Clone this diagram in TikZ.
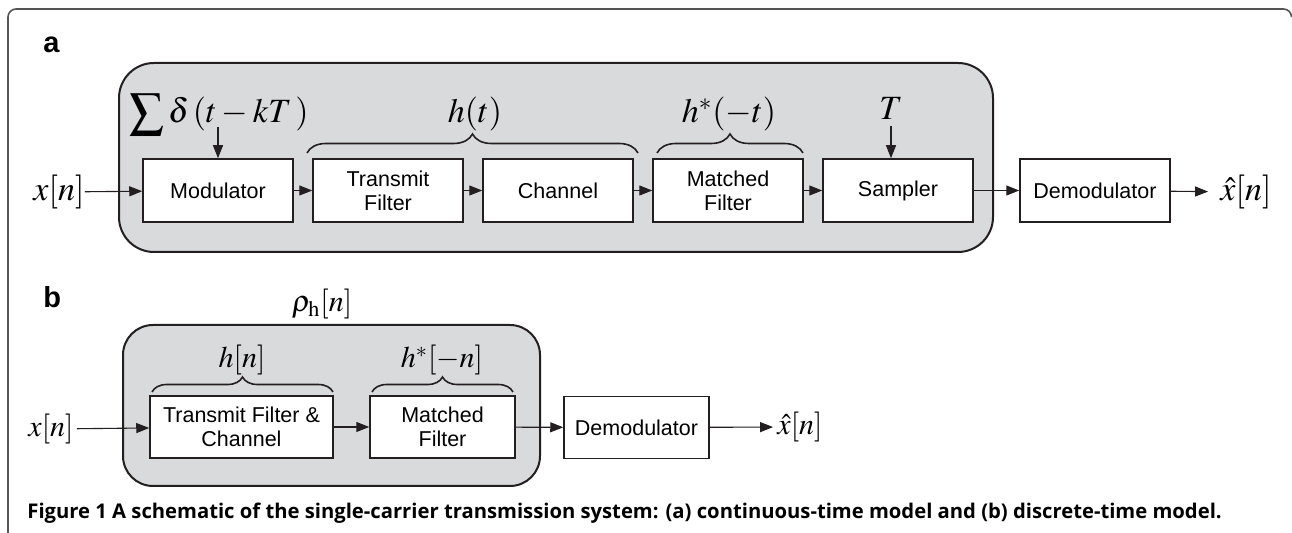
\documentclass[tikz,border=0pt]{standalone}
\usepackage{mathptmx}
\usepackage{fontspec}
\setsansfont{Liberation Sans}
\newfontfamily\capfont{Open Sans}
\usetikzlibrary{arrows.meta,decorations.pathreplacing}
\definecolor{boxgray}{RGB}{217,218,220}
\definecolor{ink}{RGB}{35,31,32}
\definecolor{framegray}{RGB}{85,85,85}

\begin{document}
\begin{tikzpicture}[x=0.5pt,y=-0.5pt,
	blk/.style={draw=ink,line width=0.75pt,fill=white,rectangle,align=center,minimum width=75pt,minimum height=31.5pt,font=\sffamily\fontsize{10.75}{12}\selectfont},
	grp/.style={draw=ink,line width=1pt,fill=boxgray},
	trans/.style={draw=ink,line width=0.55pt,-{Triangle[length=6.5pt,width=5pt]}},
	brc/.style={decorate,draw=ink,line width=0.8pt,decoration={brace,amplitude=#1}},
	mth/.style={inner sep=0pt,font=\fontsize{17}{20}\selectfont},
	mthb/.style={inner sep=0pt,font=\fontsize{15}{18}\selectfont},
	panel/.style={inner sep=0pt,anchor=base west,font=\sffamily\bfseries\fontsize{14.5}{17}\selectfont}]
\useasboundingbox (0,0) rectangle (1292,533);
\draw[framegray,line width=0.8pt,rounded corners=4pt] (8,540) -- (8,9) -- (1291.5,9) -- (1291.5,16);

% continuous-time model
\node[panel] (la) at (43,53) {a};
\draw[grp,rounded corners=17.5pt] (119,63) rectangle (993,252);
\node[mth,anchor=base west] (pulses) at (129,123) {$\displaystyle\sum \delta\,(t - kT\,)$};
\node[mth,anchor=base] (hlab) at (475,123) {$h(t)$};
\node[mth,anchor=base] (hmlab) at (729,123) {$h^{*}(-t)$};
\node[mth,anchor=base] (tsym) at (891,120) {$T$};
\draw[brc=9.5pt] (307,153) -- (638,153);
\draw[brc=9.5pt] (657,153) -- (803,153);
\node[mth] (xin) at (59,192) {$x[n]$};
\node[blk] (mod) at (218,190.5) {Modulator};
\node[blk] (txf) at (388,190.5) {Transmit\\Filter};
\node[blk] (chan) at (558,190.5) {Channel};
\node[blk] (mf) at (728,190.5) {Matched\\Filter};
\node[blk] (samp) at (898,190.5) {Sampler};
\node[blk] (demod) at (1095,190.5) {Demodulator};
\node[mth] (xout) at (1246,192) {$\hat{x}[n]$};
\coordinate (clk) at (218,127);
\draw[trans] (clk) -- (mod);
\draw[trans] ([yshift=-3pt]tsym.south) -- (tsym.south |- samp.north);
\draw[trans] (xin) -- (mod);
\draw[trans] (mod) -- (txf);
\draw[trans] (txf) -- (chan);
\draw[trans] (chan) -- (mf);
\draw[trans] (mf) -- (samp);
\draw[trans] (samp) -- (demod);
\draw[trans,shorten >=6pt] (demod) -- (xout);

% discrete-time model
\node[panel] (lb) at (43,308) {b};
\node[mthb,anchor=base] (rholab) at (322,312) {$\rho_{\mathrm{h}}[n]$};
\draw[grp,rounded corners=15pt] (123,325) rectangle (540,486);
\node[mthb,anchor=base] (hnlab) at (242,368) {$h[n]$};
\node[mthb,anchor=base] (hmnlab) at (442,368) {$h^{*}[-n]$};
\draw[brc=7.5pt] (152,392) -- (333,392);
\draw[brc=7.5pt] (372,392) -- (513,392);
\node[mthb] (xinb) at (51,429) {$x[n]$};
\node[blk,minimum width=91.5pt,minimum height=31pt] (txch) at (241.5,427) {Transmit Filter \&\\Channel};
\node[blk,minimum width=72.5pt,minimum height=31pt] (mfb) at (442.5,427) {Matched\\Filter};
\node[blk,minimum width=72.5pt,minimum height=31pt] (demodb) at (636.5,427.5) {Demodulator};
\node[mthb] (xoutb) at (800,427) {$\hat{x}[n]$};
\draw[trans,shorten <=1.5pt] (xinb) -- (txch);
\draw[trans] (txch) -- (mfb);
\draw[trans] (mfb) -- (demodb);
\draw[trans,shorten >=2pt] (demodb) -- (xoutb);

\node[anchor=base west,inner sep=0pt,font=\capfont\bfseries\fontsize{10.12}{12}\selectfont] (cap) at (27,519)
	{Figure 1 A schematic of the single-carrier transmission system: (a) continuous-time model and (b) discrete-time model.};
\end{tikzpicture}
\end{document}
